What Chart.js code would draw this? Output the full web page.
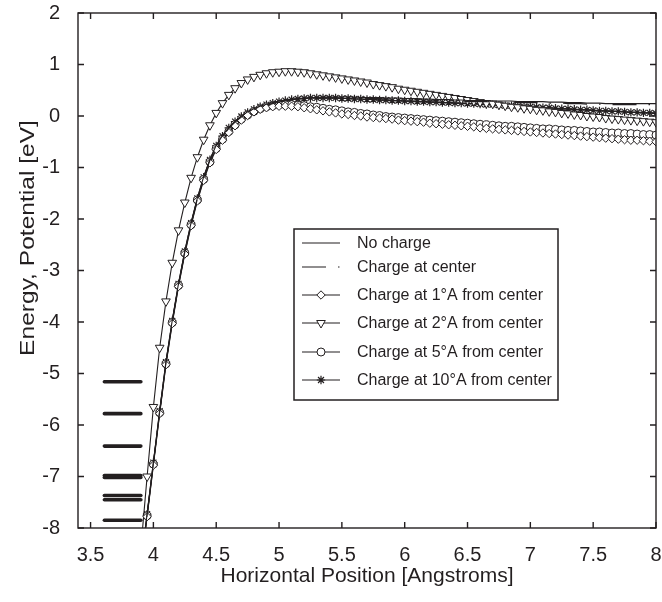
<!DOCTYPE html>
<html>
<head>
<meta charset="utf-8">
<script src="https://cdn.jsdelivr.net/npm/chart.js@4.4.0/dist/chart.umd.min.js"></script>
<style>
  html, body { margin: 0; padding: 0; background: #fff; }
  #wrap { width: 662px; height: 602px; }
</style>
</head>
<body>
<div id="wrap"><canvas id="potential-chart" width="662" height="602"></canvas></div>
<script>
// horizontal positions [Angstroms]
const xs = [3.90,3.95,4.00,4.05,4.10,4.15,4.20,4.25,4.30,4.35,4.40,4.45,4.50,4.55,4.60,4.65,4.70,4.75,4.80,4.85,
  4.90,4.95,5.00,5.05,5.10,5.15,5.20,5.25,5.30,5.35,5.40,5.45,5.50,5.55,5.60,5.65,5.70,5.75,5.80,5.85,
  5.90,5.95,6.00,6.05,6.10,6.15,6.20,6.25,6.30,6.35,6.40,6.45,6.50,6.55,6.60,6.65,6.70,6.75,6.80,6.85,
  6.90,6.95,7.00,7.05,7.10,7.15,7.20,7.25,7.30,7.35,7.40,7.45,7.50,7.55,7.60,7.65,7.70,7.75,7.80,7.85,
  7.90,7.95,8.00];

const noCharge = [-8.72,-7.72,-6.72,-5.72,-4.77,-3.97,-3.25,-2.62,-2.07,-1.59,-1.18,-0.84,-0.57,-0.38,-0.22,-0.10,
  0.00,0.08,0.14,0.19,0.23,0.26,0.29,0.31,0.33,0.34,0.35,0.36,0.36,0.37,0.37,0.37,0.37,0.37,0.37,0.36,
  0.36,0.36,0.36,0.35,0.35,0.35,0.34,0.34,0.34,0.33,0.33,0.32,0.32,0.32,0.31,0.31,0.30,0.30,0.30,0.30,
  0.29,0.29,0.29,0.29,0.28,0.28,0.28,0.28,0.28,0.27,0.27,0.27,0.26,0.26,0.26,0.25,0.25,0.25,0.24,0.24,
  0.24,0.24,0.24,0.24,0.24,0.24,0.24];

const chargeCenter = [-8.74,-7.74,-6.74,-5.74,-4.79,-3.99,-3.27,-2.64,-2.09,-1.61,-1.20,-0.86,-0.59,-0.40,-0.24,-0.12,
  -0.02,0.06,0.12,0.17,0.21,0.24,0.27,0.29,0.31,0.32,0.33,0.34,0.34,0.35,0.35,0.35,0.35,0.35,0.35,0.34,
  0.34,0.34,0.34,0.33,0.33,0.33,0.32,0.32,0.32,0.31,0.31,0.30,0.30,0.30,0.29,0.29,0.28,0.28,0.28,0.28,
  0.27,0.27,0.27,0.27,0.26,0.26,0.26,0.26,0.26,0.25,0.25,0.25,0.24,0.24,0.24,0.23,0.23,0.23,0.22,0.22,
  0.22,0.22,0.22,0.22,0.22,0.22,0.22];

const charge1A = [-8.78,-7.78,-6.78,-5.78,-4.83,-4.03,-3.31,-2.68,-2.13,-1.65,-1.25,-0.91,-0.65,-0.47,-0.32,-0.19,
  -0.08,0.01,0.08,0.13,0.16,0.18,0.19,0.19,0.19,0.18,0.16,0.14,0.12,0.10,0.08,0.06,0.04,0.03,0.01,0.00,
  -0.02,-0.03,-0.04,-0.05,-0.06,-0.08,-0.09,-0.10,-0.11,-0.12,-0.14,-0.15,-0.16,-0.17,-0.18,-0.19,-0.20,-0.21,-0.23,-0.24,
  -0.25,-0.26,-0.27,-0.28,-0.29,-0.30,-0.31,-0.32,-0.33,-0.34,-0.35,-0.36,-0.37,-0.38,-0.39,-0.40,-0.41,-0.42,-0.43,-0.44,
  -0.45,-0.46,-0.47,-0.47,-0.48,-0.49,-0.50];

const charge2A = [-8.40,-7.00,-5.65,-4.50,-3.60,-2.85,-2.22,-1.68,-1.20,-0.80,-0.46,-0.18,0.06,0.25,0.41,0.54,
  0.64,0.71,0.76,0.80,0.83,0.85,0.86,0.87,0.87,0.86,0.85,0.83,0.81,0.79,0.77,0.75,0.73,0.71,0.69,0.67,
  0.65,0.62,0.60,0.58,0.56,0.53,0.51,0.49,0.47,0.45,0.43,0.41,0.39,0.37,0.35,0.33,0.31,0.29,0.27,0.25,
  0.24,0.22,0.20,0.18,0.17,0.15,0.14,0.12,0.11,0.09,0.08,0.06,0.05,0.03,0.02,0.00,-0.01,-0.02,-0.04,-0.05,
  -0.06,-0.07,-0.08,-0.09,-0.10,-0.11,-0.12];

const charge5A = [-8.76,-7.76,-6.76,-5.76,-4.81,-4.01,-3.29,-2.66,-2.11,-1.63,-1.23,-0.89,-0.63,-0.45,-0.30,-0.17,
  -0.06,0.02,0.09,0.14,0.18,0.20,0.22,0.22,0.22,0.21,0.20,0.18,0.17,0.15,0.13,0.12,0.10,0.08,0.07,0.05,
  0.04,0.02,0.01,-0.01,-0.02,-0.03,-0.04,-0.05,-0.06,-0.07,-0.08,-0.09,-0.10,-0.11,-0.12,-0.13,-0.14,-0.15,-0.16,-0.17,
  -0.18,-0.19,-0.20,-0.20,-0.21,-0.22,-0.23,-0.24,-0.25,-0.25,-0.26,-0.27,-0.28,-0.28,-0.29,-0.30,-0.31,-0.31,-0.32,-0.33,
  -0.33,-0.34,-0.34,-0.35,-0.36,-0.36,-0.37];

const charge10A = [-8.73,-7.73,-6.73,-5.73,-4.78,-3.98,-3.26,-2.63,-2.08,-1.60,-1.19,-0.85,-0.58,-0.39,-0.23,-0.11,
  -0.01,0.07,0.13,0.18,0.22,0.25,0.28,0.30,0.32,0.33,0.34,0.35,0.35,0.35,0.35,0.35,0.34,0.34,0.33,0.33,
  0.32,0.32,0.31,0.31,0.30,0.30,0.29,0.29,0.28,0.28,0.27,0.27,0.26,0.26,0.25,0.25,0.24,0.24,0.23,0.22,
  0.22,0.21,0.20,0.20,0.19,0.18,0.18,0.17,0.16,0.16,0.15,0.14,0.14,0.13,0.12,0.12,0.11,0.10,0.10,0.09,
  0.09,0.08,0.07,0.07,0.06,0.06,0.05];

// bound state energies drawn as short bars on the left
const levels = [-5.16, -5.78, -6.41, -6.98, -7.02, -7.37, -7.45, -7.85];
const levelSpan = [3.61, 3.9];

const xTicks = [3.5, 4, 4.5, 5, 5.5, 6, 6.5, 7, 7.5, 8];
const yTicks = [-8, -7, -6, -5, -4, -3, -2, -1, 0, 1, 2];

const seriesNames = [
  "No charge",
  "Charge at center",
  "Charge at 1°A from center",
  "Charge at 2°A from center",
  "Charge at 5°A from center",
  "Charge at 10°A from center",
];

const ink = "#231f20";
const family = "'Liberation Sans', Arial, Helvetica, sans-serif";

const toPoints = (ys) => xs.map((x, i) => ({ x: x, y: ys[i] }));

const curveBase = {
  borderColor: ink,
  backgroundColor: "#fff",
  borderWidth: 1.1,
  pointBorderColor: ink,
  pointBackgroundColor: "#fff",
  pointBorderWidth: 1,
  fill: false,
  tension: 0,
};

const datasets = [
  { ...curveBase, label: seriesNames[0], data: toPoints(noCharge), pointRadius: 0 },
  { ...curveBase, label: seriesNames[1], data: toPoints(chargeCenter), pointRadius: 0, borderDash: [24, 12, 1.5, 12] },
  { ...curveBase, label: seriesNames[2], data: toPoints(charge1A), pointStyle: "rectRot", pointRadius: 4.2 },
  { ...curveBase, label: seriesNames[3], data: toPoints(charge2A), pointStyle: "triangle", rotation: 180, pointRadius: 5 },
  { ...curveBase, label: seriesNames[4], data: toPoints(charge5A), pointStyle: "circle", pointRadius: 4 },
  { ...curveBase, label: seriesNames[5], data: toPoints(charge10A), pointStyle: "star", pointRadius: 4.2, pointBorderWidth: 1.2 },
];

levels.forEach((lv) => {
  datasets.push({
    label: "level",
    data: levelSpan.map((x) => ({ x: x, y: lv })),
    borderColor: ink,
    borderWidth: 3.6,
    borderCapStyle: "round",
    pointRadius: 0,
  });
});

// box round the plot area with inward tick marks on all four sides
const frame = {
  id: "frame",
  afterDatasetsDraw(chart) {
    const { ctx, chartArea } = chart;
    const { left, right, top, bottom } = chartArea;
    const sx = chart.scales.x;
    const sy = chart.scales.y;
    ctx.save();
    ctx.strokeStyle = ink;
    ctx.lineWidth = 1.4;
    ctx.strokeRect(left, top, right - left, bottom - top);
    ctx.beginPath();
    xTicks.forEach((v) => {
      const px = sx.getPixelForValue(v);
      ctx.moveTo(px, bottom);
      ctx.lineTo(px, bottom - 6);
      ctx.moveTo(px, top);
      ctx.lineTo(px, top + 6);
    });
    yTicks.forEach((v) => {
      const py = sy.getPixelForValue(v);
      ctx.moveTo(left, py);
      ctx.lineTo(left + 6, py);
      ctx.moveTo(right, py);
      ctx.lineTo(right - 6, py);
    });
    ctx.stroke();
    ctx.restore();
  },
};

// legend box inside the plot and the stretched y-axis title
const legendBox = {
  id: "legendBox",
  afterDraw(chart) {
    const ctx = chart.ctx;
    const rows = [243, 267, 295, 323, 352, 380];
    ctx.save();
    ctx.fillStyle = "#fff";
    ctx.fillRect(294, 229, 264, 171);
    ctx.strokeStyle = ink;
    ctx.lineWidth = 1.5;
    ctx.strokeRect(294, 229, 264, 171);

    seriesNames.forEach((name, i) => {
      const ds = chart.data.datasets[i];
      const y = rows[i];
      ctx.strokeStyle = ink;
      ctx.lineWidth = 1.1;
      ctx.setLineDash(ds.borderDash || []);
      ctx.beginPath();
      ctx.moveTo(302, y);
      ctx.lineTo(340, y);
      ctx.stroke();
      ctx.setLineDash([]);
      if (ds.pointRadius > 0 && Chart.helpers && Chart.helpers.drawPoint) {
        ctx.fillStyle = "#fff";
        ctx.strokeStyle = ink;
        ctx.lineWidth = ds.pointBorderWidth;
        Chart.helpers.drawPoint(ctx, {
          pointStyle: ds.pointStyle,
          rotation: ds.rotation || 0,
          radius: ds.pointRadius,
          borderWidth: ds.pointBorderWidth,
        }, 321, y);
      }
      ctx.fillStyle = ink;
      ctx.font = "16px " + family;
      ctx.textAlign = "left";
      ctx.textBaseline = "middle";
      ctx.fillText(name, 357, y + 1);
    });

    ctx.translate(28, 238);
    ctx.rotate(-Math.PI / 2);
    ctx.scale(1.17, 1);
    ctx.fillStyle = ink;
    ctx.font = "21px " + family;
    ctx.textAlign = "center";
    ctx.textBaseline = "middle";
    ctx.fillText("Energy, Potential [eV]", 0, 0);
    ctx.restore();
  },
};

const noEdgePadding = (s) => {
  s.paddingTop = 0;
  s.paddingBottom = 0;
  s.paddingLeft = 0;
  s.paddingRight = 0;
};

new Chart(document.getElementById("potential-chart").getContext("2d"), {
  type: "line",
  data: { datasets: datasets },
  options: {
    responsive: false,
    animation: false,
    layout: { padding: { left: 0, right: 5, top: 13, bottom: 0 } },
    plugins: {
      legend: { display: false },
      tooltip: { enabled: false },
    },
    scales: {
      x: {
        type: "linear",
        min: 3.4,
        max: 8,
        afterBuildTicks: (s) => { s.ticks = xTicks.map((v) => ({ value: v })); },
        afterFit: (s) => { s.height = 74; noEdgePadding(s); },
        grid: { display: false, drawTicks: false },
        border: { display: false },
        ticks: {
          color: ink,
          padding: 15,
          autoSkip: false,
          maxRotation: 0,
          font: { size: 20, family: family },
          callback: (v) => String(v),
        },
        title: {
          display: true,
          text: "Horizontal Position [Angstroms]",
          color: ink,
          font: { size: 21, family: family },
          padding: { top: 0, bottom: 13 },
        },
      },
      y: {
        type: "linear",
        min: -8,
        max: 2,
        afterBuildTicks: (s) => { s.ticks = yTicks.map((v) => ({ value: v })); },
        afterFit: (s) => { s.width = 78; noEdgePadding(s); },
        grid: { display: false, drawTicks: false },
        border: { display: false },
        ticks: {
          color: ink,
          padding: 18,
          font: { size: 20, family: family },
          callback: (v) => String(v),
        },
      },
    },
  },
  plugins: [frame, legendBox],
});
</script>
</body>
</html>
